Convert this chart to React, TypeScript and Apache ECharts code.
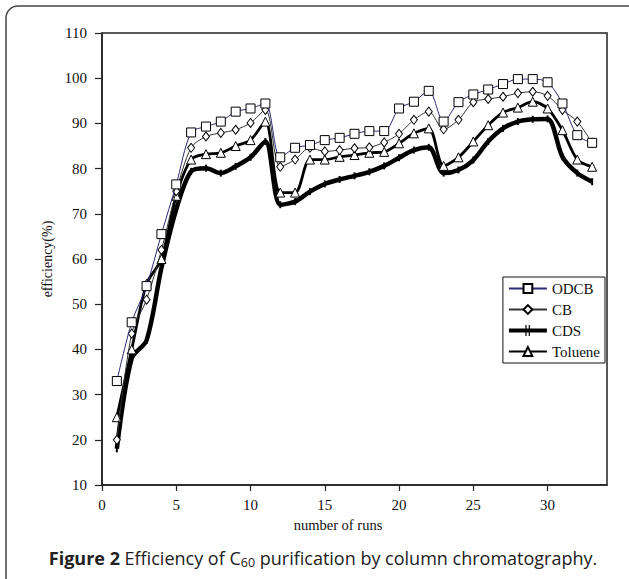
import React, { useEffect, useRef } from "react";
import * as echarts from "echarts";

const runs = [1, 2, 3, 4, 5, 6, 7, 8, 9, 10, 11, 12, 13, 14, 15, 16, 17, 18, 19, 20, 21, 22, 23, 24, 25, 26, 27, 28, 29, 30, 31, 32, 33];
const odcb = [33, 46, 54, 65.5, 76.5, 88, 89.3, 90.4, 92.6, 93.3, 94.4, 82.5, 84.6, 85.2, 86.3, 86.8, 87.7, 88.3, 88.3, 93.3, 94.8, 97.2, 90.4, 94.7, 96.4, 97.5, 98.7, 99.8, 99.8, 99.1, 94.4, 87.4, 85.7];
const cb = [20, 43.5, 51, 62, 75, 84.6, 87.1, 87.9, 88.6, 90.1, 93, 80.4, 82, 84.6, 83.8, 84.1, 84.5, 84.7, 85.8, 87.7, 90.8, 92.6, 88.7, 90.8, 94.7, 95.4, 95.9, 96.7, 97, 96.1, 93, 90.4, 85.7];
const cds = [18, 38, 42, 58, 71, 79.4, 80.1, 79, 80.5, 82.5, 86, 72, 72.7, 74.9, 76.6, 77.6, 78.4, 79.3, 80.6, 82.4, 84.1, 84.7, 79, 79.7, 81.9, 86, 88.9, 90.4, 90.9, 91, 82.6, 79, 77.1];
const toluene = [25, 40, 54.5, 60, 74, 82, 83.2, 83.5, 85, 86.3, 90.4, 74.7, 74.7, 82, 82, 82.6, 83, 83.5, 83.7, 85.6, 87.8, 88.9, 80.6, 82.5, 86, 89.6, 92.4, 93.5, 94.8, 93.3, 88.5, 82, 80.4];
const seriesNames = ["ODCB", "CB", "CDS", "Toluene"];
const xTitle = "number of runs";
const yTitle = "efficiency(%)";

const pairs = (ys: number[]) => runs.map((r, i) => [r, ys[i]]);
const SERIF = "Liberation Serif, Times New Roman, serif";
const CDS_ICON = "path://M0,3.5H38V7.5H0Z M16.5,0H17.7V11H16.5Z M19.8,0H21V11H19.8Z";

export default function App() {
  const ref = useRef<HTMLDivElement>(null);
  useEffect(() => {
    if (!ref.current) return;
    const chart = echarts.init(ref.current, undefined, { renderer: "svg" });
    const hollow = { color: "#fff", borderColor: "#000", borderWidth: 1 };
    chart.setOption({
      animation: false,
      backgroundColor: "#fff",
      grid: { left: 102, right: 22, top: 33, bottom: 94, show: true, borderColor: "#222", borderWidth: 1.5, backgroundColor: "transparent" },
      xAxis: {
        type: "value", min: 0, max: 34, interval: 5,
        axisLine: { show: true, lineStyle: { color: "#222", width: 1.5 } },
        axisTick: { show: true, length: 6, lineStyle: { color: "#222", width: 1.2 } },
        axisLabel: { showMaxLabel: false, fontFamily: SERIF, fontSize: 15, color: "#111", margin: 12 },
        splitLine: { show: false },
      },
      yAxis: {
        type: "value", min: 10, max: 110, interval: 10,
        axisLine: { show: true, lineStyle: { color: "#222", width: 1.5 } },
        axisTick: { show: true, length: 7, lineStyle: { color: "#222", width: 1.2 } },
        axisLabel: { fontFamily: SERIF, fontSize: 15, color: "#111", margin: 15 },
        splitLine: { show: false },
      },
      legend: {
        data: seriesNames.map((n) => (n === "CDS" ? { name: n, icon: CDS_ICON } : { name: n })),
        orient: "vertical",
        right: 24,
        top: 277,
        backgroundColor: "#fff",
        borderColor: "#111",
        borderWidth: 1,
        borderRadius: 0,
        padding: [4, 5, 4, 5],
        itemGap: 6,
        itemWidth: 38,
        itemHeight: 11,
        textStyle: { fontFamily: SERIF, fontSize: 15, color: "#111" },
      },
      series: [
        {
          name: "CDS", type: "line", data: pairs(cds), smooth: 0.3, z: 2,
          symbol: "path://M0,0H1V6H0Z", symbolSize: [2, 7],
          itemStyle: { color: "#000" },
          lineStyle: { color: "#000", width: 4.5 },
        },
        {
          name: "Toluene", type: "line", data: pairs(toluene), smooth: 0.3, z: 3,
          symbol: "triangle", symbolSize: 9,
          itemStyle: hollow,
          lineStyle: { color: "#000", width: 2.8 },
        },
        {
          name: "CB", type: "line", data: pairs(cb), smooth: 0.3, z: 4,
          symbol: "diamond", symbolSize: [7, 9],
          itemStyle: hollow,
          lineStyle: { color: "#333", width: 1 },
        },
        {
          name: "ODCB", type: "line", data: pairs(odcb), smooth: 0.3, z: 5,
          symbol: "rect", symbolSize: 9,
          itemStyle: hollow,
          lineStyle: { color: "#2b2b72", width: 1 },
        },
      ],
      graphic: [
        {
          type: "rect", z: 100, silent: true,
          shape: { x: 6, y: 6, width: 660, height: 640, r: 12 },
          style: { fill: "none", stroke: "#444", lineWidth: 1.5 },
        },
        {
          type: "text", x: 47, y: 259, rotation: Math.PI / 2, z: 100,
          style: { text: yTitle, font: `14px ${SERIF}`, fill: "#111", align: "center", verticalAlign: "middle" },
        },
        {
          type: "text", x: 338, y: 525, z: 100,
          style: { text: xTitle, font: `14.5px ${SERIF}`, fill: "#111", align: "center", verticalAlign: "middle" },
        },
        {
          type: "text", x: 323, y: 558, z: 100,
          style: {
            text: "{b|Figure 2} Efficiency of C{s|60} purification by column chromatography.",
            fontFamily: "Open Sans", fontSize: 18, fill: "#222", align: "center", verticalAlign: "middle",
            rich: {
              b: { fontFamily: "Open Sans", fontSize: 18, fontWeight: "bold", fill: "#222" },
              s: { fontFamily: "Open Sans", fontSize: 12.5, fill: "#222", padding: [8, 0, 0, 0] },
            },
          },
        },
      ],
    });
    return () => chart.dispose();
  }, []);
  return <div ref={ref} style={{ position: "fixed", left: 0, top: 0, width: 629, height: 579 }} />;
}
